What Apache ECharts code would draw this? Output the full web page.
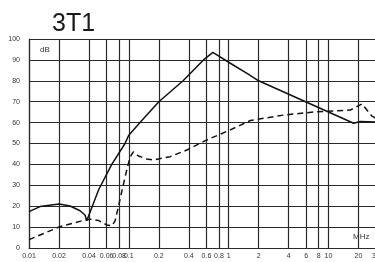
<!DOCTYPE html>
<html><head><meta charset="utf-8">
<script src="https://cdn.jsdelivr.net/npm/echarts@6/dist/echarts.min.js"></script>
<style>html,body{margin:0;padding:0;background:#fff}#c{width:375px;height:262px}</style>
</head><body><div id="c"></div>
<script>
const titleText = '3T1';
const yUnit = 'dB';
const xUnit = 'MHz';
const xTicks = [0.01, 0.02, 0.04, 0.06, 0.08, 0.1, 0.2, 0.4, 0.6, 0.8, 1, 2, 4, 6, 8, 10, 20, 30];
const yMin = 0, yMax = 100, yStep = 10;

const solidFreq = [0.01, 0.0129, 0.02, 0.0258, 0.0325, 0.0364, 0.0379, 0.05, 0.0675, 0.0917, 0.1, 0.135, 0.2, 0.35, 0.56, 0.696, 1.04, 1.53, 2, 17.9, 21, 30];
const solidDb   = [17.4, 19.8, 21, 20.1, 17.8, 15.8, 13, 28, 40, 50, 54, 61, 70, 80, 90, 93.6, 88.4, 83.6, 80, 59.7, 60.5, 60.3];

const dashedFreq = [0.01, 0.0204, 0.0364, 0.0409, 0.0496, 0.0603, 0.0675, 0.0729, 0.0787, 0.085, 0.0954, 0.103, 0.111, 0.125, 0.151, 0.177, 0.26, 0.382, 0.605, 1.04, 1.65, 3.56, 7.7, 16.6, 21.7, 27.2, 30];
const dashedDb   = [4, 10.2, 13.4, 13.8, 13.2, 11, 10.6, 13, 19.8, 27, 37.3, 43.5, 46, 44, 42.6, 42.1, 43.7, 46.9, 51.7, 56.5, 61, 63.6, 65.2, 66, 68.9, 63.2, 62];

const pair = (xs, ys) => xs.map((x, i) => [x, ys[i]]);
const labelFont = "'Liberation Sans Narrow', 'Arial Narrow', 'Liberation Sans', Arial, sans-serif";
const gridColor = '#2a2a2a';

const chart = echarts.init(document.getElementById('c'), null, {renderer: 'canvas'});
chart.setOption({
  animation: false,
  backgroundColor: '#fff',
  title: {
    text: titleText, left: 47, top: 7,
    textStyle: {fontFamily: "'Liberation Sans', Arial, sans-serif", fontSize: 25, fontWeight: 'normal', color: '#1a1a1a'}
  },
  grid: {left: 29, top: 39, right: -1, bottom: 14, containLabel: false, outerBoundsMode: 'none'},
  xAxis: {
    type: 'log', logBase: 10, min: 0.01, max: 30,
    axisLine: {show: true, lineStyle: {color: gridColor, width: 1.2}},
    axisTick: {show: false, customValues: xTicks},
    axisLabel: {
      customValues: xTicks, interval: 0, margin: 5, hideOverlap: false,
      fontFamily: labelFont, fontSize: 7, color: '#333',
      formatter: v => String(parseFloat(Number(v).toPrecision(6)))
    },
    splitLine: {show: true, lineStyle: {color: gridColor, width: 1.2}},
    minorSplitLine: {show: false}
  },
  yAxis: {
    type: 'value', min: yMin, max: yMax, interval: yStep,
    axisLine: {show: true, lineStyle: {color: gridColor, width: 1.2}},
    axisTick: {show: false},
    axisLabel: {margin: 9, fontFamily: labelFont, fontSize: 7, color: '#333'},
    splitLine: {show: true, lineStyle: {color: gridColor, width: 1.2}}
  },
  graphic: [
    {type: 'text', left: 40, top: 46, style: {text: yUnit, font: "8px " + labelFont, fill: '#333'}},
    {type: 'text', left: 353, top: 233, style: {text: xUnit, font: "8px " + labelFont, fill: '#333'}}
  ],
  series: [
    {type: 'line', data: pair(solidFreq, solidDb), showSymbol: false, smooth: false,
     lineStyle: {color: '#111', width: 1.5}},
    {type: 'line', data: pair(dashedFreq, dashedDb), showSymbol: false, smooth: false,
     lineStyle: {color: '#111', width: 1.5, type: [6, 4]}}
  ]
});
</script></body></html>
